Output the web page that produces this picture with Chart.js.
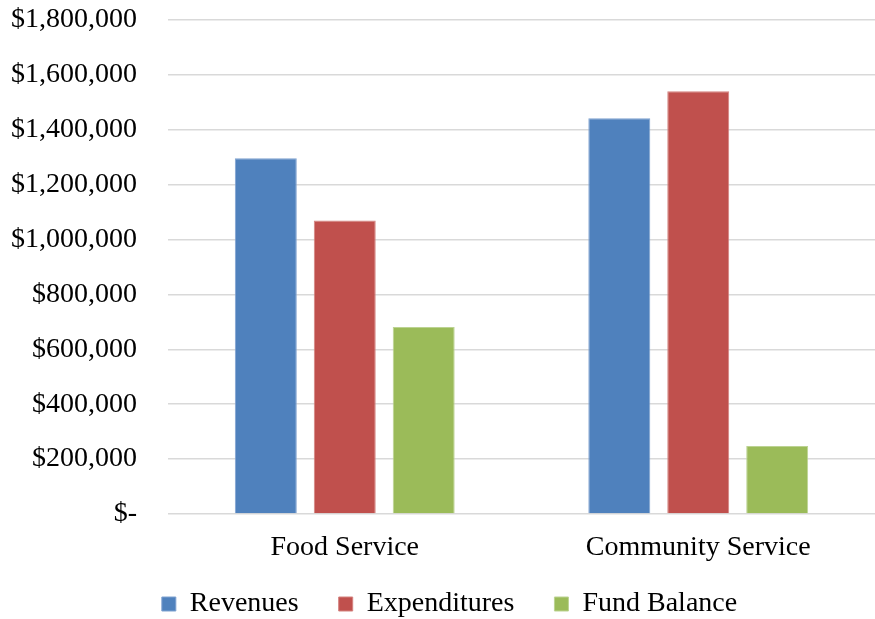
<!DOCTYPE html>
<html>
<head>
<meta charset="utf-8">
<title>Revenues, Expenditures and Fund Balance</title>
<script src="https://cdn.jsdelivr.net/npm/chart.js@4/dist/chart.umd.min.js"></script>
<style>
  html, body { margin: 0; padding: 0; background: #fff; }
  canvas { display: block; }
</style>
</head>
<body>
<canvas id="fundChart" width="875" height="619"></canvas>
<script>
const categories = ['Food Service', 'Community Service'];
const revenues = [1296000, 1442000];
const expenditures = [1069000, 1540000];
const fundBalance = [681000, 248000];
const yTicks = [0, 200000, 400000, 600000, 800000, 1000000, 1200000, 1400000, 1600000, 1800000];

const FONT = { family: '"Liberation Serif", "Times New Roman", serif', size: 28 };

function money(v) {
  return v === 0 ? '$-' : '$' + v.toLocaleString('en-US');
}

// the legend's 40px item gap also pads it vertically, so pull the row up
const legendLift = {
  id: 'legendLift',
  afterLayout(chart) {
    const lg = chart.legend;
    lg.top -= 16;
    lg.left += 12;
    lg.right += 12;
  }
};

new Chart(document.getElementById('fundChart'), {
  type: 'bar',
  data: {
    labels: categories,
    datasets: [
      { label: 'Revenues', data: revenues, backgroundColor: '#4f81bd', borderColor: '#7fa2d0', borderWidth: 1 },
      { label: 'Expenditures', data: expenditures, backgroundColor: '#c0504d', borderColor: '#d4827f', borderWidth: 1 },
      { label: 'Fund Balance', data: fundBalance, backgroundColor: '#9bbb59', borderColor: '#bcd392', borderWidth: 1 }
    ]
  },
  plugins: [legendLift],
  options: {
    responsive: false,
    animation: false,
    categoryPercentage: 0.67,
    barPercentage: 0.785,
    layout: { padding: { left: 0, right: 0, top: 20, bottom: 0 } },
    plugins: {
      tooltip: { enabled: false },
      legend: {
        position: 'bottom',
        maxHeight: 53,
        labels: {
          boxWidth: 14,
          boxHeight: 14,
          padding: 40,
          color: '#000',
          font: FONT
        }
      }
    },
    scales: {
      x: {
        grid: { display: false, drawTicks: false },
        border: { display: false },
        ticks: { color: '#000', font: FONT, padding: 17 },
        afterFit(scale) { scale.height = 52; }
      },
      y: {
        min: 0,
        max: yTicks[yTicks.length - 1],
        afterBuildTicks(scale) { scale.ticks = yTicks.map(v => ({ value: v })); },
        afterFit(scale) {
          scale.width = 168;
          scale.paddingTop = 17;
          scale.paddingBottom = 17;
        },
        grid: { color: '#d9d9d9', lineWidth: 1.5, drawTicks: false },
        border: { display: false },
        ticks: {
          color: '#000',
          font: FONT,
          padding: 31,
          callback: v => money(v)
        }
      }
    }
  }
});
</script>
</body>
</html>
